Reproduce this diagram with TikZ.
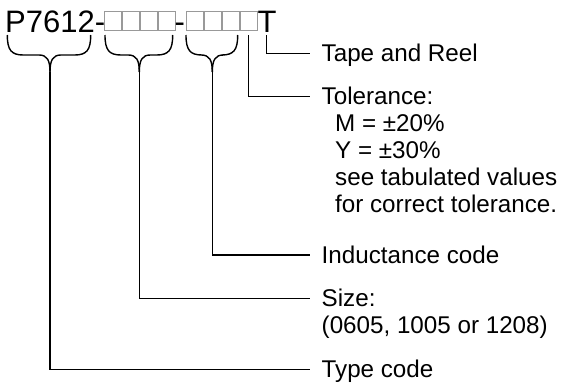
\documentclass[tikz,border=0pt]{standalone}
\usepackage{fontspec}
\setmainfont{Liberation Sans}
\newcommand{\mybrace}[3]{% left x, right x, center x
  \draw[ln] (#1,35) .. controls (#1,50) and (#1+4,55) .. (#1+16,55) -- (#3-11,55)
    .. controls (#3-3,55) and (#3,60) .. (#3,72);
  \draw[ln] (#2,35) .. controls (#2,50) and (#2-4,55) .. (#2-16,55) -- (#3+11,55)
    .. controls (#3+3,55) and (#3,60) .. (#3,72);
}
\begin{document}
\begin{tikzpicture}[x=1pt,y=-1pt,
  ttl/.style={font=\fontsize{31}{34}\selectfont, inner sep=0pt, anchor=base west},
  lbl/.style={font=\fontsize{24.2}{27}\selectfont, inner sep=0pt, anchor=base west},
  ln/.style={line width=1.4pt, line join=miter},
  gbox/.style={draw=black!40, line width=0.9pt}]
\useasboundingbox (0,0) rectangle (565,383);
% part number
\node[ttl] (p) at (5,32) {P7612-};
\foreach \x in {104.3,122.3,140.3,158.3,186.7,204.7,222.7,240.7}
  \draw[gbox] (\x,11.7) rectangle ++(17,18.3);
\node[ttl] (h2) at (174.5,32) {-};
\node[ttl] (t) at (257.5,32) {T};
% labels
\node[lbl] (tape) at (321.5,61.8) {Tape and Reel};
\node[lbl] (tol) at (321.5,104.8) {Tolerance:};
\node[lbl] (tolm) at (335,131.8) {M = ±20\%};
\node[lbl] (toly) at (335,158.8) {Y = ±30\%};
\node[lbl] (tols) at (335,185.8) {see tabulated values};
\node[lbl] (tolf) at (335,212.8) {for correct tolerance.};
\node[lbl] (ind) at (321.5,263.5) {Inductance code};
\node[lbl] (size) at (321.5,306.8) {Size:};
\node[lbl] (sizev) at (321.5,333.8) {(0605, 1005 or 1208)};
\node[lbl] (type) at (321.5,377.8) {Type code};
% braces
\mybrace{7.3}{90.7}{50}
\mybrace{105}{172.7}{139.3}
\mybrace{186}{237.7}{212.3}
% connectors
\coordinate (tb) at (50,72);
\coordinate (sb) at (139.3,72);
\coordinate (ib) at (212.3,72);
\coordinate (tt) at (248.6,35);
\coordinate (ta) at (266.7,35);
\draw[ln] (ta) |- ([xshift=-11.5pt,yshift=8.5pt]tape.base west);
\draw[ln] (tt) |- ([xshift=-11.5pt,yshift=8.5pt]tol.base west);
\draw[ln] (ib) |- ([xshift=-11.5pt,yshift=8.5pt]ind.base west);
\draw[ln] (sb) |- ([xshift=-11.5pt,yshift=8.5pt]size.base west);
\draw[ln] (tb) |- ([xshift=-11.5pt,yshift=8.5pt]type.base west);
\end{tikzpicture}
\end{document}
